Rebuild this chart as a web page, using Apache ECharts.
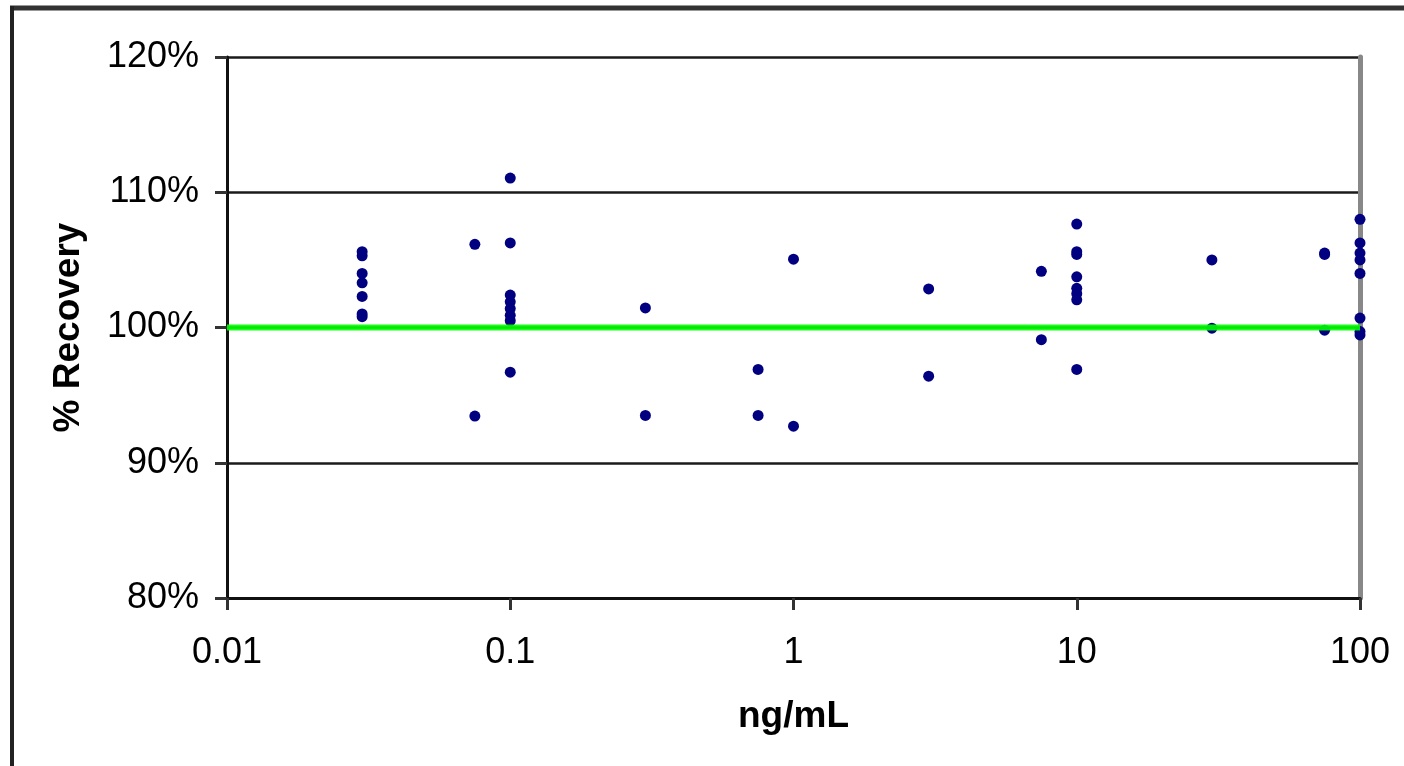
<!DOCTYPE html>
<html>
<head>
<meta charset="utf-8">
<script src="https://cdn.jsdelivr.net/npm/echarts@6/dist/echarts.min.js"></script>
<style>
    html, body { margin: 0; padding: 0; background: #fff; }
    #recoveryChart { width: 1404px; height: 766px; }
</style>
</head>
<body>
<div id="recoveryChart"></div>
<script>
// 浓度 (ng/mL) 和 对应回收率 (%)，按位置一一对应
var conc = [
    0.03, 0.03, 0.03, 0.03, 0.03, 0.03, 0.03,
    0.075, 0.075,
    0.1, 0.1, 0.1, 0.1, 0.1, 0.1, 0.1, 0.1,
    0.3, 0.3,
    0.75, 0.75,
    1, 1,
    3, 3,
    7.5, 7.5,
    10, 10, 10, 10, 10, 10, 10, 10,
    30, 30,
    75, 75, 75,
    100, 100, 100, 100, 100, 100, 100, 100
];
var recovery = [
    105.6, 105.3, 104.0, 103.3, 102.3, 101.0, 100.8,
    106.15, 93.45,
    111.05, 106.25, 102.4, 101.9, 101.4, 100.9, 100.5, 96.7,
    101.45, 93.5,
    96.9, 93.5,
    105.05, 92.7,
    102.85, 96.4,
    104.15, 99.1,
    107.65, 105.6, 105.4, 103.75, 102.9, 102.5, 102.05, 96.9,
    105.0, 99.95,
    105.5, 105.4, 99.8,
    108.0, 106.25, 105.5, 105.0, 104.0, 100.7, 99.7, 99.45
];
var targetLine = 100;
var xRange = [0.01, 100];
var yRange = [80, 120];

var points = [];
for (var i = 0; i < conc.length; i++) {
    points.push([conc[i], recovery[i]]);
}

var fontFamily = '"Liberation Sans", Arial, sans-serif';
var chart = echarts.init(document.getElementById('recoveryChart'));
chart.setOption({
    animation: false,
    backgroundColor: '#fff',
    grid: { left: 227, right: 44, top: 57, bottom: 168 },
    graphic: [
        { type: 'line', shape: { x1: 10, y1: 8, x2: 1404, y2: 8 }, style: { stroke: '#333', lineWidth: 5 } },
        { type: 'line', shape: { x1: 12, y1: 6, x2: 12, y2: 766 }, style: { stroke: '#222', lineWidth: 4 } }
    ],
    xAxis: {
        type: 'log',
        logBase: 10,
        min: xRange[0],
        max: xRange[1],
        name: 'ng/mL',
        nameLocation: 'middle',
        nameGap: 100,
        nameTextStyle: { fontFamily: fontFamily, fontSize: 37, fontWeight: 'bold', color: '#000' },
        axisLine: { lineStyle: { color: '#111', width: 3 } },
        axisTick: { show: true, length: 12, lineStyle: { color: '#333', width: 3 } },
        minorTick: { show: false },
        axisLabel: {
            margin: 37,
            fontFamily: fontFamily,
            fontSize: 36,
            color: '#000',
            formatter: function (v) { return String(+v.toPrecision(6)); }
        },
        splitLine: { show: false }
    },
    yAxis: [
        {
            type: 'value',
            min: yRange[0],
            max: yRange[1],
            interval: 10,
            name: '% Recovery',
            nameLocation: 'middle',
            nameGap: 140,
            nameRotate: 90,
            nameTextStyle: { fontFamily: fontFamily, fontSize: 37, fontWeight: 'bold', color: '#000' },
            axisLine: { show: true, lineStyle: { color: '#111', width: 3 } },
            axisTick: { show: true, length: 12, lineStyle: { color: '#333', width: 3 } },
            axisLabel: {
                margin: 28,
                fontFamily: fontFamily,
                fontSize: 36,
                color: '#000',
                formatter: '{value}%'
            },
            splitLine: { show: true, lineStyle: { color: '#1a1a1a', width: 2.5 } }
        },
        {
            type: 'value',
            position: 'right',
            min: yRange[0],
            max: yRange[1],
            axisLine: { show: true, lineStyle: { color: '#888', width: 5 } },
            axisTick: { show: false },
            axisLabel: { show: false },
            splitLine: { show: false }
        }
    ],
    series: [
        {
            name: 'Recovery',
            type: 'scatter',
            symbol: 'circle',
            symbolSize: 11,
            itemStyle: { color: '#000080', opacity: 1 },
            data: points,
            z: 3
        },
        {
            name: 'Target',
            type: 'line',
            data: [[xRange[0], targetLine], [xRange[1], targetLine]],
            symbol: 'none',
            silent: true,
            lineStyle: { color: '#00ff00', width: 6, opacity: 0.9 },
            z: 4
        }
    ]
});
</script>
</body>
</html>
